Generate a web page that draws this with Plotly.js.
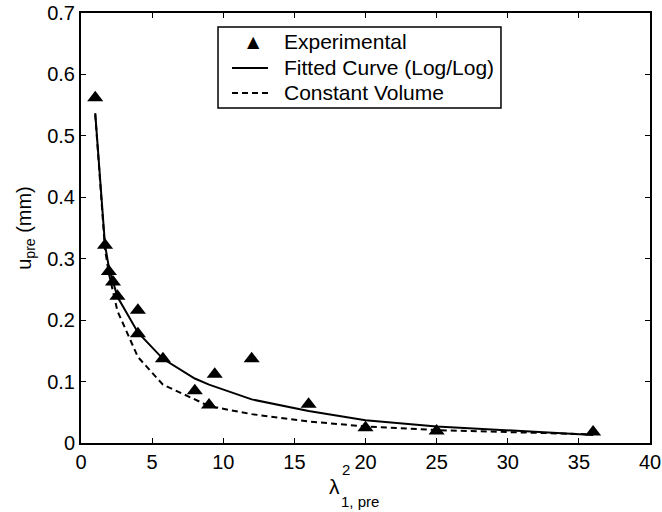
<!DOCTYPE html>
<html>
<head>
<meta charset="utf-8">
<script src="https://cdn.plot.ly/plotly-3.0.1.min.js"></script>
<style>html,body{margin:0;padding:0;background:#fff;}#chart{width:662px;height:512px;}</style>
</head>
<body>
<div id="chart"></div>
<script>
// Experimental data (lambda^2, u_pre in mm)
const expX = [1, 1.69, 1.96, 2.25, 2.56, 4, 4, 5.76, 8, 9, 9.4, 12, 16, 20, 25, 36];
const expY = [0.562, 0.322, 0.279, 0.262, 0.239, 0.216, 0.178, 0.137, 0.085, 0.062, 0.112, 0.137, 0.063, 0.025, 0.0195, 0.018];

// Fitted curve (Log/Log)
const fitX = [1, 1.69, 1.96, 2.25, 2.56, 4, 5.76, 8, 9, 12, 16, 20, 25, 36];
const fitY = [0.537, 0.322, 0.286, 0.262, 0.238, 0.18, 0.137, 0.105, 0.095, 0.071, 0.052, 0.037, 0.027, 0.013];

// Constant volume
const cvX = [1, 1.69, 1.96, 2.25, 2.56, 4, 5.76, 8, 9, 12, 16, 20, 25, 36];
const cvY = [0.535, 0.315, 0.276, 0.245, 0.215, 0.14, 0.095, 0.071, 0.06, 0.047, 0.035, 0.027, 0.021, 0.014];

const xTicks = [0, 5, 10, 15, 20, 25, 30, 35, 40];
const yTicks = [0, 0.1, 0.2, 0.3, 0.4, 0.5, 0.6, 0.7];
const yTickText = ['0', '0.1', '0.2', '0.3', '0.4', '0.5', '0.6', '0.7'];

const legendNames = ['Experimental', 'Fitted Curve (Log/Log)', 'Constant Volume'];

const FONT = 'Liberation Sans, Arial, Helvetica, sans-serif';

const traces = [
  {x: fitX, y: fitY, mode: 'lines', name: legendNames[1], showlegend: false,
   line: {color: '#000', width: 2}},
  {x: cvX, y: cvY, mode: 'lines', name: legendNames[2], showlegend: false,
   line: {color: '#000', width: 2, dash: '6px,4px'}},
  {x: expX, y: expY, mode: 'markers', name: legendNames[0], showlegend: false,
   marker: {symbol: 'triangle-up', size: 14, color: '#000'}}
];

// Legend box geometry (paper coordinates)
const LG = {x0: 0.2408, x1: 0.7381, y0: 0.7791, y1: 0.9674,
            rows: [0.9326, 0.8721, 0.8140], symX: 0.3023, lnX0: 0.2654, lnX1: 0.3286, txtX: 0.3533};

const shapes = [
  {type: 'rect', xref: 'paper', yref: 'paper', x0: LG.x0, x1: LG.x1, y0: LG.y0, y1: LG.y1,
   line: {color: '#000', width: 1.5}, fillcolor: '#fff', layer: 'above'},
  {type: 'line', xref: 'paper', yref: 'paper', x0: LG.lnX0, x1: LG.lnX1, y0: LG.rows[1], y1: LG.rows[1],
   line: {color: '#000', width: 2}, layer: 'above'},
  {type: 'line', xref: 'paper', yref: 'paper', x0: LG.lnX0, x1: LG.lnX1, y0: LG.rows[2], y1: LG.rows[2],
   line: {color: '#000', width: 2, dash: '6px,4px'}, layer: 'above'}
];

const annotations = [
  {text: '▲', xref: 'paper', yref: 'paper', x: LG.symX, y: LG.rows[0],
   xanchor: 'center', yanchor: 'middle', showarrow: false,
   font: {family: 'DejaVu Sans', size: 16, color: '#000'}},
  ...legendNames.map((t, i) => ({text: t, xref: 'paper', yref: 'paper', x: LG.txtX, y: LG.rows[i],
   xanchor: 'left', yanchor: 'middle', showarrow: false,
   font: {family: FONT, size: 21, color: '#000'}})),
  {text: 'λ', xref: 'paper', yref: 'paper', x: 0.446, y: -0.102,
   xanchor: 'center', yanchor: 'middle', showarrow: false,
   font: {family: FONT, size: 21, color: '#000'}},
  {text: '2', xref: 'paper', yref: 'paper', x: 0.456, y: -0.062,
   xanchor: 'left', yanchor: 'middle', showarrow: false,
   font: {family: FONT, size: 15, color: '#000'}},
  {text: '1, pre', xref: 'paper', yref: 'paper', x: 0.454, y: -0.135,
   xanchor: 'left', yanchor: 'middle', showarrow: false,
   font: {family: FONT, size: 15, color: '#000'}}
];

const layout = {
  width: 662, height: 512,
  margin: {l: 81, r: 12, t: 13, b: 69},
  paper_bgcolor: '#fff', plot_bgcolor: '#fff',
  font: {family: FONT, size: 20, color: '#000'},
  showlegend: false,
  xaxis: {range: [0, 40], tickvals: xTicks, ticktext: xTicks.map(String),
          ticks: 'inside', ticklen: 5, tickwidth: 1, tickcolor: '#000',
          showline: true, linecolor: '#000', linewidth: 2, mirror: 'allticks',
          showgrid: false, zeroline: false,
          tickfont: {family: FONT, size: 20, color: '#000'}},
  yaxis: {range: [0, 0.7], tickvals: yTicks, ticktext: yTickText,
          ticks: 'inside', ticklen: 5, tickwidth: 1, tickcolor: '#000',
          showline: true, linecolor: '#000', linewidth: 2, mirror: 'allticks',
          showgrid: false, zeroline: false,
          tickfont: {family: FONT, size: 20, color: '#000'},
          title: {text: 'u<sub>pre</sub> (mm)', standoff: 10,
                  font: {family: FONT, size: 20, color: '#000'}}},
  shapes: shapes,
  annotations: annotations
};

Plotly.newPlot('chart', traces, layout, {displayModeBar: false, staticPlot: true});
</script>
</body>
</html>
